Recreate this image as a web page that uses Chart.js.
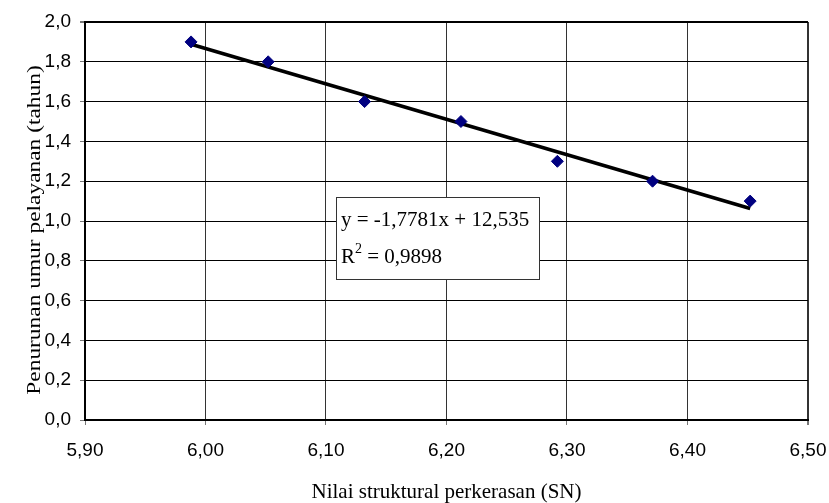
<!DOCTYPE html>
<html>
<head>
<meta charset="utf-8">
<script src="https://cdn.jsdelivr.net/npm/chart.js@4/dist/chart.umd.min.js"></script>
<style>
    body { margin: 0; background: #fff; }
    #wrap { width: 829px; height: 503px; position: relative; }
</style>
</head>
<body>
<div id="wrap"><canvas id="snChart"></canvas></div>
<script>
// Data
const snValues = [5.988, 6.052, 6.132, 6.212, 6.292, 6.371, 6.452];
const penurunan = [1.9, 1.8, 1.6, 1.5, 1.3, 1.2, 1.1];

// Linear trend line ends (as drawn)
const trendX = [5.988, 6.452];
const trendY = [1.888, 1.063];

const xTicks = [5.9, 6.0, 6.1, 6.2, 6.3, 6.4, 6.5];
const yTicks = [0, 0.2, 0.4, 0.6, 0.8, 1.0, 1.2, 1.4, 1.6, 1.8, 2.0];

const xTitle = 'Nilai struktural perkerasan (SN)';
const yTitle = 'Penurunan umur pelayanan (tahun)';
const eqLine = 'y = -1,7781x + 12,535';
const r2Value = ' = 0,9898';

const comma = (v, d) => v.toFixed(d).replace('.', ',');

// Axis titles and the equation box
const overlay = {
    id: 'overlay',
    afterDatasetsDraw(chart) {
        const { ctx, chartArea: a } = chart;
        ctx.save();

        // equation box
        const bx = a.left + 251, by = a.top + 175;
        ctx.fillStyle = '#fff';
        ctx.fillRect(bx, by, 203, 82);
        ctx.strokeStyle = '#333';
        ctx.lineWidth = 1;
        ctx.strokeRect(bx + 0.5, by + 0.5, 203, 82);

        ctx.fillStyle = '#000';
        ctx.textAlign = 'left';
        ctx.textBaseline = 'alphabetic';
        ctx.font = '21px "Liberation Serif"';
        ctx.fillText(eqLine, bx + 5, by + 29);
        ctx.fillText('R', bx + 5, by + 66);
        const rw = ctx.measureText('R').width;
        ctx.font = '14px "Liberation Serif"';
        ctx.fillText('2', bx + 5 + rw, by + 56);
        const sw = ctx.measureText('2').width;
        ctx.font = '21px "Liberation Serif"';
        ctx.fillText(r2Value, bx + 5 + rw + sw, by + 66);

        // x axis title
        ctx.textAlign = 'center';
        ctx.fillText(xTitle, (a.left + a.right) / 2, 498);

        // y axis title (stretched along its length like the source)
        ctx.translate(35, 230);
        ctx.rotate(-Math.PI / 2);
        ctx.scale(1.3, 1);
        ctx.font = '18px "Liberation Serif"';
        ctx.textBaseline = 'middle';
        ctx.fillText(yTitle, 0, 0);

        ctx.restore();
    }
};

const ctx = document.getElementById('snChart').getContext('2d');
new Chart(ctx, {
    type: 'scatter',
    data: {
        datasets: [
            {
                label: 'Trend',
                type: 'line',
                data: trendX.map((x, i) => ({ x: x, y: trendY[i] })),
                borderColor: '#000',
                borderWidth: 3.5,
                pointRadius: 0,
                fill: false,
                order: 2
            },
            {
                label: 'Data',
                data: snValues.map((x, i) => ({ x: x, y: penurunan[i] })),
                pointStyle: 'rectRot',
                pointRadius: 6,
                borderWidth: 1,
                backgroundColor: '#000080',
                borderColor: '#000080',
                order: 1
            }
        ]
    },
    options: {
        responsive: true,
        maintainAspectRatio: false,
        animation: false,
        layout: {
            padding: { top: 22, right: 21, left: 0, bottom: 0 }
        },
        plugins: {
            legend: { display: false },
            tooltip: { enabled: false }
        },
        scales: {
            x: {
                type: 'linear',
                min: 5.9,
                max: 6.5,
                afterBuildTicks: scale => { scale.ticks = xTicks.map(v => ({ value: v })); },
                afterFit: scale => {
                    scale.height = 83;
                    scale.paddingLeft = 0;
                    scale.paddingRight = 0;
                },
                ticks: {
                    color: '#000',
                    padding: 14,
                    maxRotation: 0,
                    font: { family: '"Liberation Sans"', size: 19 },
                    callback: v => comma(v, 2)
                },
                grid: {
                    color: '#333',
                    lineWidth: c => (c.tick && c.tick.value === 6.5 ? 2 : 1),
                    tickLength: 5,
                    tickColor: '#777'
                },
                border: { color: '#000', width: 2 }
            },
            y: {
                min: 0,
                max: 2.0,
                afterBuildTicks: scale => { scale.ticks = yTicks.map(v => ({ value: v })); },
                afterFit: scale => {
                    scale.width = 85;
                    scale.paddingTop = 0;
                    scale.paddingBottom = 0;
                },
                ticks: {
                    color: '#000',
                    padding: 9,
                    font: { family: '"Liberation Sans"', size: 19 },
                    callback: v => comma(v, 1)
                },
                grid: {
                    color: '#000',
                    lineWidth: c => (c.tick && c.tick.value === 2.0 ? 2 : 1),
                    tickLength: 5,
                    tickColor: '#777'
                },
                border: { color: '#000', width: 2 }
            }
        }
    },
    plugins: [overlay]
});
</script>
</body>
</html>
